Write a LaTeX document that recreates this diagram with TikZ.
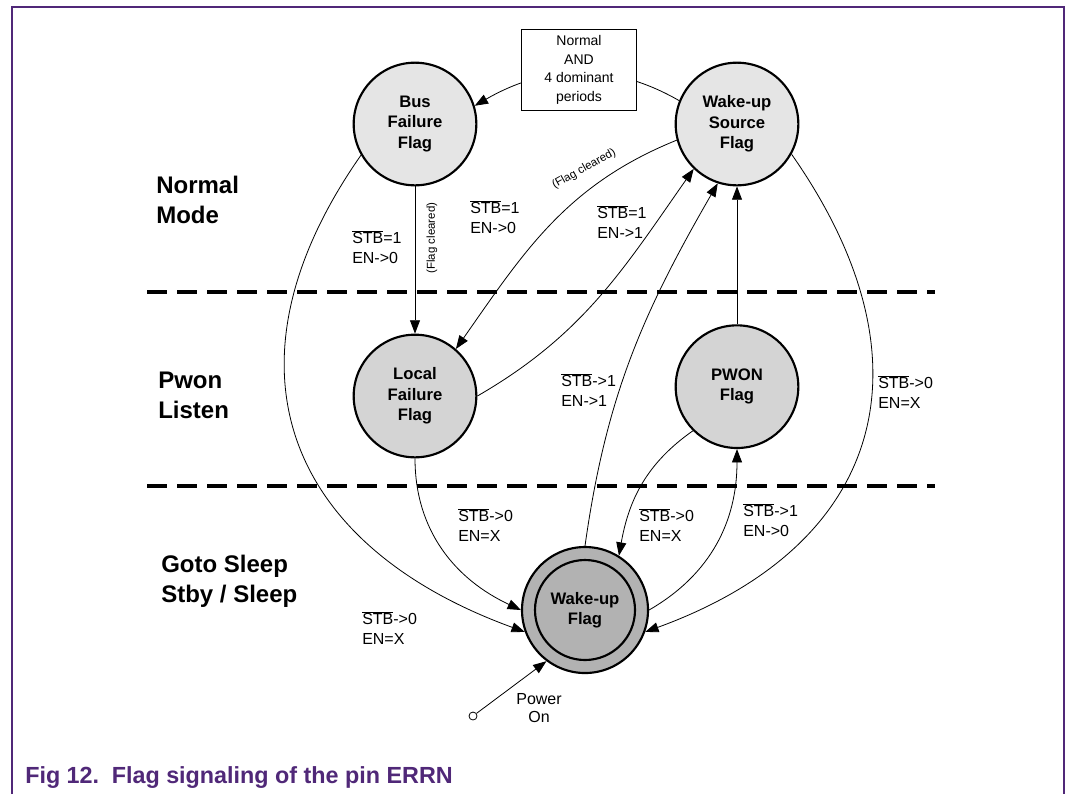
\documentclass[tikz,border=0pt]{standalone}
\usepackage{fontspec}
\setmainfont{Liberation Sans}
\usetikzlibrary{positioning,arrows.meta}
\definecolor{nxpviolet}{RGB}{80,40,120}
\newcommand{\stbn}{$\overline{\mbox{STB}}$}

\begin{document}
\begin{tikzpicture}[
  x=0.75pt, y=-0.75pt,
  flag/.style={circle, draw, line width=1.6pt, minimum size=92pt, inner sep=0pt,
    align=center, font=\fontsize{12.5}{15.4}\selectfont\bfseries},
  cond/.style={align=left, anchor=west, inner sep=0pt, font=\fontsize{12}{15}\selectfont},
  mode/.style={align=left, anchor=west, inner sep=0pt, font=\fontsize{18}{22.5}\selectfont\bfseries},
  tiny/.style={inner sep=0pt, font=\fontsize{8.6}{10}\selectfont},
  arr/.style={-{Triangle[length=10pt,width=7.5pt]}, line width=0.6pt},
  sep/.style={line width=3pt, dash pattern=on 15pt off 7.5pt},
  on grid
]
  \useasboundingbox (0,0) rectangle (1066,794);
  \draw[nxpviolet, line width=1.5pt] (12,794) -- (12,7) -- (1064,7) -- (1064,794);

  \draw[sep] (147,292) -- (935,292);
  \draw[sep] (147,486) -- (935,486);

  \node[mode] (nm) at (156,200) {Normal\\Mode};
  \node[mode] (pl) at (158,395) {Pwon\\Listen};
  \node[mode] (gs) at (161,581) {Goto Sleep\\Stby / Sleep};

  \node[flag, fill=black!10] (bf) at (415,124) {Bus\\Failure\\Flag};
  \node[flag, fill=black!10, right=241.5pt of bf] (wus) {Wake-up\\Source\\Flag};
  \node[flag, fill=black!17, below=204pt of bf] (lf) {Local\\Failure\\Flag};
  \node[flag, fill=black!17, below=197pt of wus] (pwon) {PWON\\Flag};
  \node[flag, fill=black!30, minimum size=94.5pt] (wuf) at (585,610) {};
  \node[flag, minimum size=75pt] (wufin) at (wuf) {Wake-up\\Flag};

  \draw[arr] (wus.158) to[out=150, in=30] (bf.17);
  \node[draw, fill=white, line width=0.8pt, minimum width=86pt, minimum height=61pt,
    align=center, font=\fontsize{10.5}{14}\selectfont] (cnd) at (579,70)
    {Normal\\AND\\4 dominant\\periods};

  \draw[arr] (bf) -- (lf);
  \draw[arr] (wus.195) to[out=202, in=55] (lf.49);
  \draw[arr] (lf.east) to[out=30, in=235] (wus.226);
  \draw[arr] (wuf.north) to[out=82, in=240] (wus.252);
  \draw[arr] (pwon) -- (wus);
  \draw[arr] (pwon.225) to[out=215, in=80] (wuf.58);
  \draw[arr] (wuf.east) to[out=30, in=270] (pwon.south);
  \draw[arr] (lf.south) to[out=270, in=155] (wuf.180);
  \draw[arr] (bf.210) to[out=235, in=160, looseness=1.3] (wuf.200);
  \draw[arr] (wus.331) to[out=-55, in=20, looseness=1.3] (wuf.340);

  \node[tiny, rotate=90] (fc1) at (432,238) {(Flag cleared)};
  \node[tiny, rotate=29] (fc2) at (584,169) {(Flag cleared)};

  \node[cond] (c1) at (352,247) {\stbn=1\\EN->0};
  \node[cond] (c2) at (470,217) {\stbn=1\\EN->0};
  \node[cond] (c3) at (597,222) {\stbn=1\\EN->1};
  \node[cond] (c4) at (561,390) {\stbn->1\\EN->1};
  \node[cond] (c5) at (639,525) {\stbn->0\\EN=X};
  \node[cond] (c6) at (743,520) {\stbn->1\\EN->0};
  \node[cond] (c7) at (458,525) {\stbn->0\\EN=X};
  \node[cond] (c8) at (362,628) {\stbn->0\\EN=X};
  \node[cond] (c9) at (878,392) {\stbn->0\\EN=X};

  \node[circle, draw, minimum size=6pt, inner sep=0pt, line width=0.6pt] (pwr) at (473,716) {};
  \draw[arr] (pwr) -- (wuf.233);
  \node[align=center, inner sep=0pt, font=\fontsize{12}{14}\selectfont] (pwrl) at (539,708) {Power\\On};

  \node[anchor=west, inner sep=0pt, text=nxpviolet, font=\fontsize{17.5}{20}\selectfont\bfseries]
    (cap) at (25,777) {Fig 12.\hspace{3pt} Flag signaling of the pin ERRN};
\end{tikzpicture}
\end{document}
